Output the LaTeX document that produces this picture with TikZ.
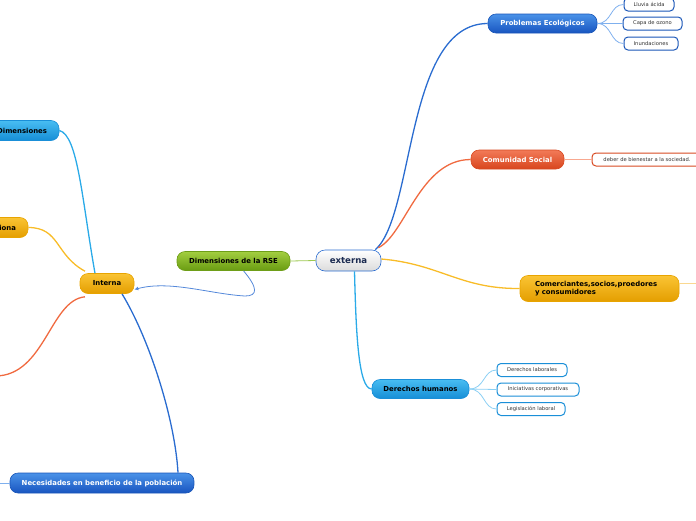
\documentclass[tikz,border=0pt]{standalone}
\usepackage{fontspec}
\setmainfont{DejaVu Sans}
\usetikzlibrary{arrows.meta}
\definecolor{blueT}{HTML}{4A92E8}
\definecolor{blueB}{HTML}{1855C0}
\definecolor{blueD}{HTML}{1A56B8}
\definecolor{cyanT}{HTML}{48BDF2}
\definecolor{cyanB}{HTML}{168ED6}
\definecolor{cyanD}{HTML}{1A8FD8}
\definecolor{redT}{HTML}{F27A58}
\definecolor{redB}{HTML}{D8461E}
\definecolor{redD}{HTML}{D84A22}
\definecolor{yelT}{HTML}{FAC434}
\definecolor{yelB}{HTML}{E49E00}
\definecolor{yelD}{HTML}{E8A400}
\definecolor{grnT}{HTML}{A2CE40}
\definecolor{grnB}{HTML}{6A9C12}
\definecolor{grnD}{HTML}{6E9E18}
\definecolor{lnBlue}{HTML}{2A6CD0}
\definecolor{lnLight}{HTML}{7FB0EE}
\definecolor{lnCyan}{HTML}{2AAAE8}
\definecolor{lnRed}{HTML}{F06A40}
\definecolor{lnYel}{HTML}{F8BC28}
\definecolor{lnGrn}{HTML}{9CC850}
\definecolor{lnRedL}{HTML}{F8A890}
\definecolor{lnYelL}{HTML}{FAD890}
\definecolor{lnCyanL}{HTML}{8CD0F4}
\definecolor{navy}{HTML}{1A2A50}
\begin{document}
\begin{tikzpicture}[x=1pt,y=-1pt,
  base/.style={rounded corners=8pt, minimum height=19pt, inner sep=0pt, line width=0.6pt,
    font=\bfseries\fontsize{6.9}{7.8}\selectfont},
  bluen/.style={base, top color=blueT, bottom color=blueB, draw=blueD, text=white},
  cyann/.style={base, top color=cyanT, bottom color=cyanB, draw=cyanD, text=black},
  redn/.style={base, top color=redT, bottom color=redB, draw=redD, text=white},
  yeln/.style={base, top color=yelT, bottom color=yelB, draw=yelD, text=black},
  grnn/.style={base, top color=grnT, bottom color=grnB, draw=grnD, text=black},
  leaf/.style={rounded corners=4pt, line width=1pt, fill=white, minimum height=13pt,
    inner sep=0pt, font=\fontsize{5.2}{6}\selectfont, text=black!80},
  mainln/.style={line width=1.3pt},
  subln/.style={line width=0.8pt},
]
\useasboundingbox (0,0) rectangle (696,520);
\clip (0,0) rectangle (696,520);

% central
\node[base, rounded corners=9pt, minimum width=65pt, minimum height=21pt,
  top color=white, bottom color=black!14, draw=lnBlue, text=navy,
  font=\bfseries\fontsize{8.6}{9}\selectfont] (ext) at (348.5,260.5) {externa};

% right side
\node[bluen, minimum width=109pt] (prob) at (542.5,23.5) {Problemas Ecológicos};
\node[leaf, draw=blueD, minimum width=50pt] (lluv) at (649,4.5) {Lluvia ácida};
\node[leaf, draw=blueD, minimum width=59pt] (capa) at (652.5,23.5) {Capa de ozono};
\node[leaf, draw=blueD, minimum width=54pt] (inun) at (651,43.5) {Inundaciones};

\node[redn, minimum width=93pt] (com) at (517.5,159.5) {Comunidad Social};
\node[leaf, draw=redD, minimum width=110pt] (deb) at (647,159.5) {deber de bienestar a la sociedad.};

\node[yeln, minimum width=159pt, minimum height=26pt, text width=129pt, align=left,
  font=\bfseries\fontsize{6.9}{7.8}\selectfont] (comer) at (599.5,288.5)
  {Comerciantes,socios,proedores\\y consumidores};
\coordinate (comerR) at (700,283.5);

\node[cyann, minimum width=97pt] (dh) at (420.5,389) {Derechos humanos};
\node[leaf, draw=cyanD, minimum width=70pt] (dl) at (532,370) {Derechos laborales};
\node[leaf, draw=cyanD, minimum width=82pt] (ic) at (538,389.5) {Iniciativas corporativas};
\node[leaf, draw=cyanD, minimum width=68pt] (ll) at (531,409) {Legislación laboral};

% left side
\node[grnn, minimum width=113pt] (rse) at (233.5,261) {Dimensiones de la RSE};
\node[yeln, minimum width=54pt, minimum height=20pt] (int) at (107,283.5) {Interna};
\node[cyann, minimum width=90pt, minimum height=20pt, text width=66pt, align=right] (dim) at (14,130.5) {Dimensiones};
\node[yeln, minimum width=70pt, minimum height=20pt, text width=46pt, align=right] (ges) at (-7,227.5) {iona};
\coordinate (redEnd) at (-5,376);
\node[bluen, minimum width=184pt, minimum height=20pt] (nec) at (102,483) {Necesidades en beneficio de la población};
\coordinate (necL) at (-5,483);

% connectors from externa
\draw[lnBlue, mainln] ([xshift=-6pt]ext.north east) .. controls (415,215) and (405,23.5) .. (prob.west);
\draw[lnRed, mainln] ([xshift=-3pt,yshift=2pt]ext.north east) .. controls (405,235) and (420,159.5) .. (com.west);
\draw[lnYel, mainln] ([yshift=1.5pt]ext.east) .. controls (440,264) and (460,289) .. (comer.west);
\draw[lnCyan, mainln] ([xshift=6pt]ext.south) .. controls (356,330) and (358,389) .. (dh.west);
\draw[lnGrn, subln] (ext.west) -- (rse.east);

% sub connectors
\draw[lnLight, subln] (prob.east) .. controls (612,23.5) and (610,4.5) .. (lluv.west);
\draw[lnLight, subln] (prob.east) -- (capa.west);
\draw[lnLight, subln] (prob.east) .. controls (612,23.5) and (610,43.5) .. (inun.west);
\draw[lnRedL, subln] (com.east) .. controls (580,159.5) and (580,159.5) .. (deb.west);
\draw[lnYelL, subln] ([yshift=5pt]comer.east) -- (comerR);
\draw[lnCyanL, subln] (dh.east) .. controls (485,389) and (483,370) .. (dl.west);
\draw[lnCyanL, subln] (dh.east) -- (ic.west);
\draw[lnCyanL, subln] (dh.east) .. controls (485,389) and (483,409) .. (ll.west);

% arrow from RSE to Interna
\draw[lnBlue!80, line width=0.8pt, -{Latex[length=4pt,width=4pt]}]
  ([xshift=10pt]rse.south) .. controls (258,288) and (258,296) .. (245,296)
  .. controls (210,294) and (170,280) .. ([yshift=-6pt]int.east);

% connectors from Interna
\draw[lnCyan, mainln] ([xshift=-12pt]int.north) .. controls (82,200) and (78,135) .. (dim.east);
\draw[lnYel, mainln] ([xshift=-22pt,yshift=2pt]int.north) .. controls (55,255) and (60,227.5) .. (ges.east);
\draw[lnRed, mainln] ([xshift=-22pt,yshift=-3pt]int.south) .. controls (50,300) and (45,376) .. (redEnd);
\draw[lnBlue, mainln] ([xshift=15pt]int.south) .. controls (150,340) and (175,420) .. ([xshift=76pt]nec.north);
\draw[lnLight, subln] (nec.west) -- (necL);
\end{tikzpicture}
\end{document}
